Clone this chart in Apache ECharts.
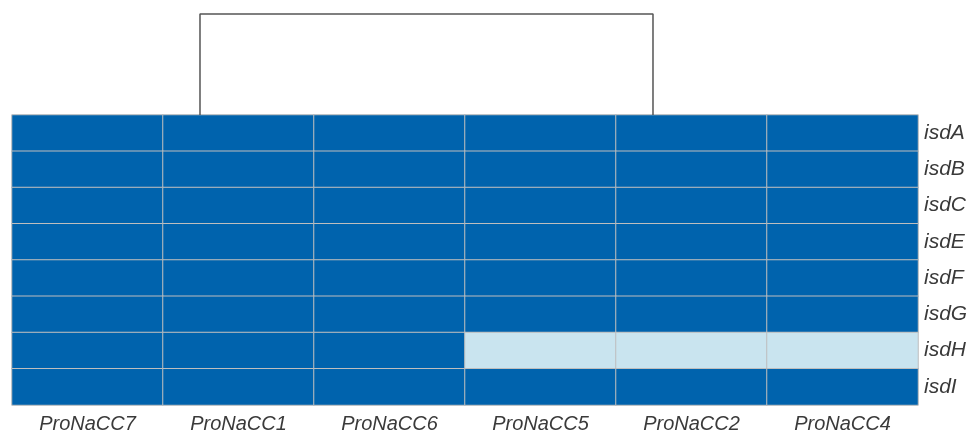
<!DOCTYPE html>
<html><head><meta charset="utf-8">
<script src="https://cdn.jsdelivr.net/npm/echarts@6/dist/echarts.min.js"></script>
<style>html,body{margin:0;padding:0;background:#fff}#c{width:971px;height:434px}</style>
</head><body><div id="c"></div>
<script>
const samples = ['ProNaCC7','ProNaCC1','ProNaCC6','ProNaCC5','ProNaCC2','ProNaCC4'];
const genes = ['isdA','isdB','isdC','isdE','isdF','isdG','isdH','isdI'];
// 1 = present (dark), 0 = absent (light); rows follow genes, columns follow samples
const isdA = [1,1,1,1,1,1];
const isdB = [1,1,1,1,1,1];
const isdC = [1,1,1,1,1,1];
const isdE = [1,1,1,1,1,1];
const isdF = [1,1,1,1,1,1];
const isdG = [1,1,1,1,1,1];
const isdH = [1,1,1,0,0,0];
const isdI = [1,1,1,1,1,1];
const rows = [isdA,isdB,isdC,isdE,isdF,isdG,isdH,isdI];
// dendrogram path in column units (x) and relative height (y)
const dendroX = [1.245, 1.245, 4.245, 4.245];
const dendroY = [0, 1, 1, 0];

const cells = [];
rows.forEach((r, gi) => r.forEach((v, si) => cells.push([si, gi, v])));

const chart = echarts.init(document.getElementById('c'), null, {renderer: 'canvas'});
const font = '"Liberation Sans Narrow", "Arial Narrow", sans-serif';
chart.setOption({
  animation: false,
  grid: [
    {left: 12, top: 115, width: 906, height: 290, containLabel: false, outerBoundsMode: 'none'},
    {left: 12, top: 14, width: 906, height: 101, containLabel: false, outerBoundsMode: 'none'}
  ],
  xAxis: [
    {type: 'category', data: samples, gridIndex: 0, axisLine: {show: false}, axisTick: {show: false},
     axisLabel: {margin: 9, fontFamily: font, fontSize: 20, fontStyle: 'italic', color: '#3a3a3a'}, splitLine: {show: false}},
    {type: 'value', gridIndex: 1, min: 0, max: 6, show: false}
  ],
  yAxis: [
    {type: 'category', data: genes, gridIndex: 0, inverse: true, position: 'right',
     axisLine: {show: false}, axisTick: {show: false},
     axisLabel: {margin: 6, fontFamily: font, fontSize: 21, fontStyle: 'italic', color: '#3a3a3a'}, splitLine: {show: false}},
    {type: 'value', gridIndex: 1, min: 0, max: 1, show: false}
  ],
  visualMap: {
    show: false, type: 'piecewise', seriesIndex: 0, dimension: 2,
    pieces: [{value: 1, color: '#0063AD'}, {value: 0, color: '#C9E4EF'}]
  },
  series: [
    {type: 'heatmap', xAxisIndex: 0, yAxisIndex: 0, data: cells,
     itemStyle: {borderColor: '#BEBEBE', borderWidth: 1}, emphasis: {disabled: true}},
    {type: 'line', xAxisIndex: 1, yAxisIndex: 1, data: dendroX.map((x, i) => [x, dendroY[i]]),
     symbol: 'none', lineStyle: {color: '#555', width: 1.5}, silent: true, clip: false}
  ]
});
</script></body></html>
